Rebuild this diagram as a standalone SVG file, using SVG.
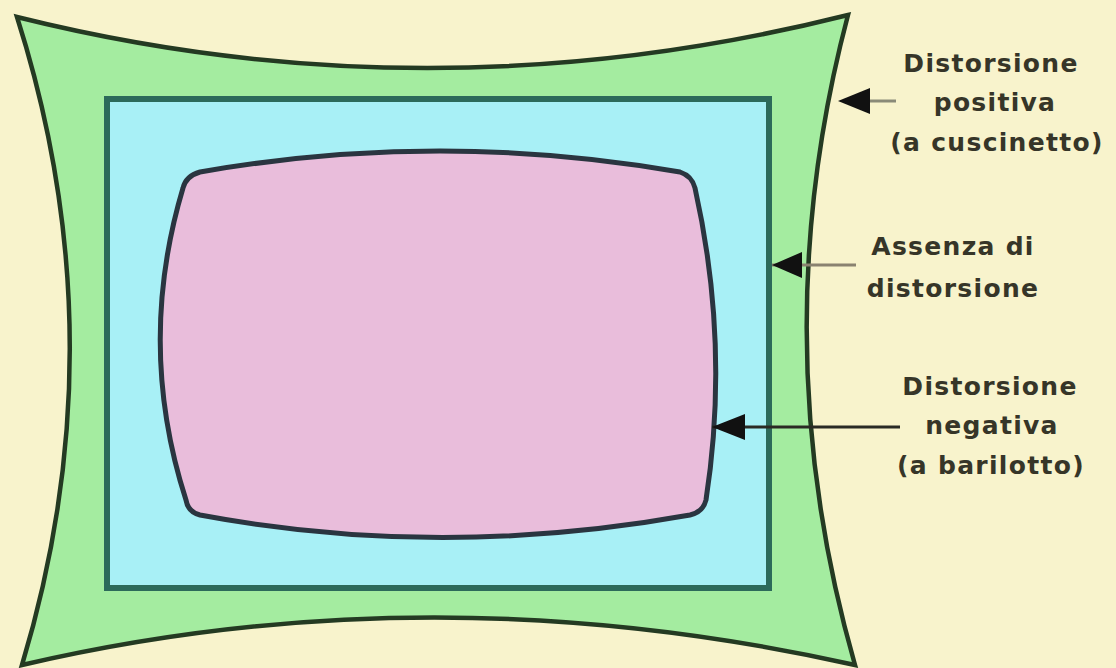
<svg xmlns="http://www.w3.org/2000/svg" width="1116" height="668" viewBox="0 0 1116 668">
<defs>
<style>
.lbl{font-family:"DejaVu Sans",sans-serif;font-weight:bold;font-size:25px;fill:#363528;text-anchor:middle;letter-spacing:1.3px}
</style>
</defs>
<rect width="1116" height="668" fill="#f8f3cc"/>
<g id="pincushion">
<path d="M17 17 Q430 120 848 15 Q762 340 855 665 Q430 570 22 665 Q120 340 17 17 Z" fill="#a4eca0" stroke="#243a22" stroke-width="4.5" stroke-linejoin="miter"/>
</g>
<g id="normal">
<rect x="107" y="99" width="662" height="489" fill="#a8f0f6" stroke="#2c6a5a" stroke-width="6"/>
</g>
<g id="barrel">
<path d="M200 172 Q440 130 680 172 Q692 176 695 188 Q730 345 706 500 Q703 512 690 515 Q440 560 200 515 Q188 512 186 500 Q136 345 183 188 Q186 176 200 172 Z" fill="#e9bddb" stroke="#2a3540" stroke-width="5"/>
</g>
<g id="connectors">
<path d="M838 101 L870 88 L870 114 Z" fill="#111"/>
<line x1="870" y1="101" x2="896" y2="101" stroke="#8a8a78" stroke-width="3"/>
<line x1="772" y1="265" x2="856" y2="265" stroke="#8a8270" stroke-width="3"/>
<path d="M772 265 L802 252 L802 278 Z" fill="#111"/>
<line x1="712" y1="427" x2="900" y2="427" stroke="#2a2a24" stroke-width="3"/>
<path d="M712 427 L745 414 L745 440 Z" fill="#111"/>
</g>
<g id="label-positive">
<text class="lbl" x="991" y="72">Distorsione</text>
<text class="lbl" x="995" y="111">positiva</text>
<text class="lbl" x="997" y="151">(a cuscinetto)</text>
</g>
<g id="label-none">
<text class="lbl" x="953" y="255">Assenza di</text>
<text class="lbl" x="953" y="297">distorsione</text>
</g>
<g id="label-negative">
<text class="lbl" x="990" y="395">Distorsione</text>
<text class="lbl" x="992" y="434">negativa</text>
<text class="lbl" x="991" y="474">(a barilotto)</text>
</g>
</svg>
